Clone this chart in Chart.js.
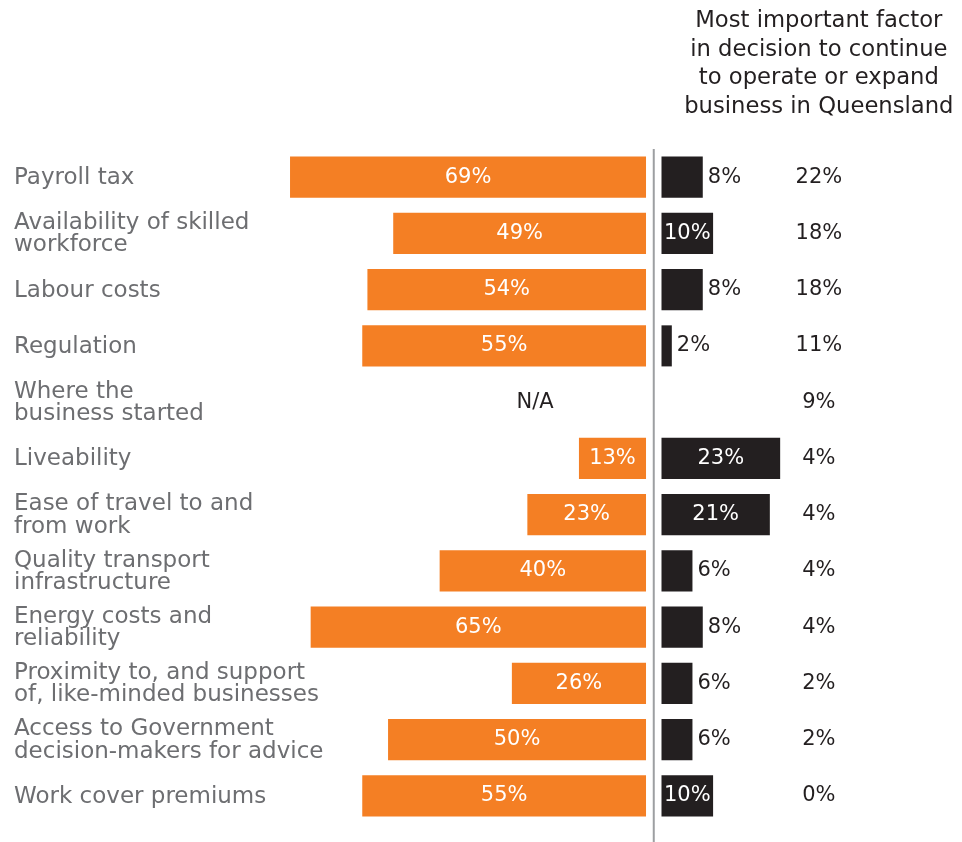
<!DOCTYPE html>
<html>
<head>
<meta charset="utf-8">
<title>Factors in decision to operate in Queensland</title>
<script src="https://cdn.jsdelivr.net/npm/chart.js@4.4.1/dist/chart.umd.min.js"></script>
<style>
  html, body { margin: 0; padding: 0; background: #fff; }
  #wrap { position: relative; width: 962px; height: 842px; }
</style>
</head>
<body>
<div id="wrap"><canvas id="factorsChart"></canvas></div>
<script>
const categories = [
    'Payroll tax',
    ['Availability of skilled', 'workforce'],
    'Labour costs',
    'Regulation',
    ['Where the', 'business started'],
    'Liveability',
    ['Ease of travel to and', 'from work'],
    ['Quality transport', 'infrastructure'],
    ['Energy costs and', 'reliability'],
    ['Proximity to, and support', 'of, like-minded businesses'],
    ['Access to Government', 'decision-makers for advice'],
    'Work cover premiums'
];
const leftValues = [69, 49, 54, 55, null, 13, 23, 40, 65, 26, 50, 55];
const rightValues = [8, 10, 8, 2, null, 23, 21, 6, 8, 6, 6, 10];
const mostImportant = [22, 18, 18, 11, 9, 4, 4, 4, 4, 2, 2, 0];
const headerLines = [
    'Most important factor',
    'in decision to continue',
    'to operate or expand',
    'business in Queensland'
];

const GAP = 1.5;        // space either side of the divider (x units)
const NA_X = -23;       // where "N/A" sits on the left side
const COL3_X = 32;      // third column centre
const DARK = '#231f20';
const pct = v => v + '%';

// divider line, bar values, third column and its header
const textPlugin = {
    id: 'barText',
    beforeDatasetsDraw(chart) {
        const { ctx, scales: { x } } = chart;
        const x0 = x.getPixelForValue(0);
        ctx.save();
        ctx.strokeStyle = '#9d9fa2';
        ctx.lineWidth = 2;
        ctx.beginPath();
        ctx.moveTo(x0, chart.chartArea.top);
        ctx.lineTo(x0, chart.height);
        ctx.stroke();
        ctx.restore();
    },
    afterDatasetsDraw(chart) {
        const { ctx, scales: { x, y } } = chart;
        const leftBars = chart.getDatasetMeta(0).data;
        const rightBars = chart.getDatasetMeta(1).data;
        ctx.save();
        ctx.font = '21px "DejaVu Sans"';
        ctx.textBaseline = 'middle';
        categories.forEach((c, i) => {
            const yy = y.getPixelForValue(i);
            ctx.textAlign = 'center';
            if (leftValues[i] == null) {
                ctx.fillStyle = DARK;
                ctx.fillText('N/A', x.getPixelForValue(NA_X), yy);
            } else {
                const bar = leftBars[i];
                ctx.fillStyle = '#ffffff';
                ctx.fillText(pct(leftValues[i]), (bar.x + bar.base) / 2, yy);
            }
            const v = rightValues[i];
            if (v != null) {
                const bar = rightBars[i];
                if (v >= 10) {
                    ctx.fillStyle = '#ffffff';
                    ctx.fillText(pct(v), (bar.x + bar.base) / 2, yy);
                } else {
                    ctx.fillStyle = DARK;
                    ctx.textAlign = 'left';
                    ctx.fillText(pct(v), Math.max(bar.x, bar.base) + 5, yy);
                }
            }
            ctx.fillStyle = DARK;
            ctx.textAlign = 'center';
            ctx.fillText(pct(mostImportant[i]), x.getPixelForValue(COL3_X), yy);
        });

        ctx.font = '22.7px "DejaVu Sans"';
        ctx.textBaseline = 'alphabetic';
        ctx.textAlign = 'center';
        ctx.fillStyle = DARK;
        headerLines.forEach((line, k) => {
            ctx.fillText(line, x.getPixelForValue(COL3_X), 27 + k * 28.5);
        });
        ctx.restore();
    }
};

document.addEventListener('DOMContentLoaded', function () {
    const ctx = document.getElementById('factorsChart').getContext('2d');
    const factorsChart = new Chart(ctx, {
        type: 'bar',
        data: {
            labels: categories,
            datasets: [{
                data: leftValues.map(v => v == null ? null : [-GAP - v, -GAP]),
                backgroundColor: '#f47f24',
                grouped: false,
                barPercentage: 0.73,
                categoryPercentage: 1
            }, {
                data: rightValues.map(v => v == null ? null : [GAP, GAP + v]),
                backgroundColor: DARK,
                grouped: false,
                barPercentage: 0.73,
                categoryPercentage: 1
            }]
        },
        options: {
            indexAxis: 'y',
            responsive: true,
            maintainAspectRatio: false,
            animation: false,
            layout: {
                padding: { top: 149, bottom: 18, left: 14, right: 9 }
            },
            plugins: {
                legend: { display: false },
                tooltip: { enabled: false }
            },
            scales: {
                x: {
                    display: false,
                    min: -124,
                    max: 58
                },
                y: {
                    grid: { display: false },
                    border: { display: false },
                    ticks: {
                        // mirrored so the long labels are not clipped to the axis box
                        mirror: true,
                        crossAlign: 'near',
                        padding: 0,
                        labelOffset: 1,
                        autoSkip: false,
                        color: '#6d6e71',
                        font: { family: 'DejaVu Sans', size: 23, lineHeight: 0.97 }
                    },
                    afterFit(scale) {
                        scale.width = 0;
                    }
                }
            }
        },
        plugins: [textPlugin]
    });
});
</script>
</body>
</html>
